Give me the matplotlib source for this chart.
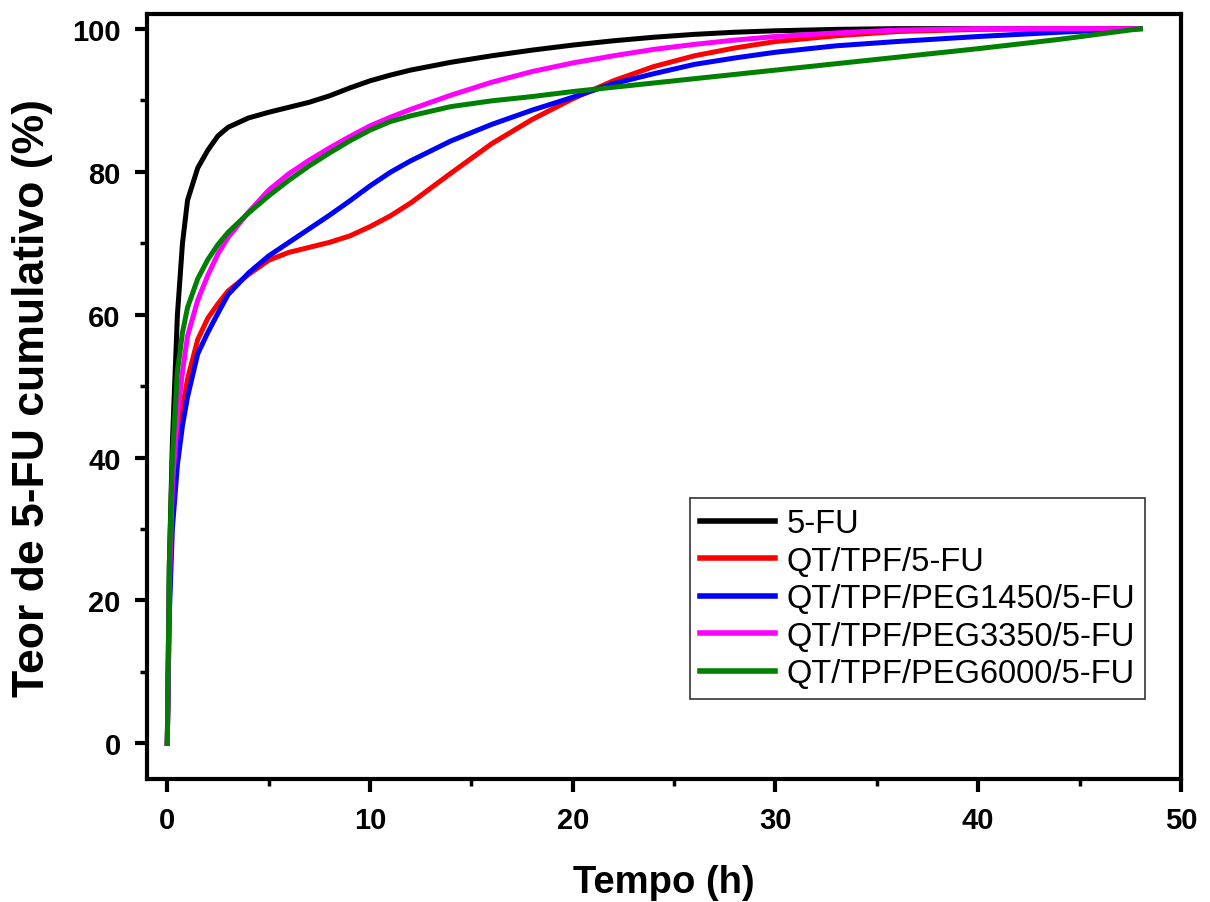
import numpy as np
import matplotlib
matplotlib.use("Agg")
import matplotlib.pyplot as plt
from matplotlib.ticker import MultipleLocator

plt.rcParams['font.family'] = ['Liberation Sans', 'DejaVu Sans']

# time points (h)
tempo = [0, 0.1, 0.25, 0.5, 0.75, 1, 1.5, 2, 2.5, 3, 4, 5, 6, 7, 8, 9, 10, 11, 12,
         14, 16, 18, 20, 22, 24, 26, 28, 30, 33, 36, 40, 44, 48]

# cumulative release (%)
fu = [0, 25, 42, 60, 70, 76, 80.5, 83, 85, 86.2, 87.5, 88.3, 89, 89.7, 90.6, 91.7, 92.7, 93.5, 94.2,
      95.3, 96.2, 97, 97.7, 98.3, 98.8, 99.2, 99.5, 99.7, 99.9, 100, 100, 100, 100]
qt_tpf = [0, 20, 33, 42, 47, 51, 56.5, 59.5, 61.5, 63.3, 65.6, 67.6, 68.7, 69.4, 70.1, 71, 72.3, 73.8, 75.6,
          79.8, 83.9, 87.3, 90.2, 92.7, 94.7, 96.2, 97.3, 98.2, 99, 99.6, 99.9, 100, 100]
peg1450 = [0, 18, 30, 39, 44.5, 48.5, 54.5, 57.5, 60.2, 62.8, 65.8, 68.2, 70.1, 72, 73.9, 75.9, 78, 79.9, 81.5,
           84.3, 86.6, 88.6, 90.4, 92.3, 93.7, 95, 95.9, 96.7, 97.6, 98.2, 98.9, 99.5, 100]
peg3350 = [0, 22, 36, 46, 52, 57, 62, 65.5, 68.5, 70.8, 74.3, 77.4, 79.7, 81.6, 83.3, 84.9, 86.4, 87.6, 88.7,
           90.7, 92.5, 94, 95.2, 96.2, 97.1, 97.8, 98.4, 98.9, 99.4, 99.8, 100, 100, 100]
peg6000 = [0, 25, 40, 52, 57.5, 61, 65, 67.7, 69.8, 71.5, 74.2, 76.6, 78.8, 80.8, 82.6, 84.3, 85.8, 87, 87.8,
           89.1, 89.9, 90.5, 91.2, 91.8, 92.4, 93, 93.6, 94.2, 95.1, 96, 97.2, 98.5, 100]

labels = ["5-FU", "QT/TPF/5-FU", "QT/TPF/PEG1450/5-FU", "QT/TPF/PEG3350/5-FU", "QT/TPF/PEG6000/5-FU"]
colors = ["black", "red", "blue", "magenta", "green"]
series = [fu, qt_tpf, peg1450, peg3350, peg6000]

fig = plt.figure(figsize=(12.1, 9.03), dpi=100)
ax = fig.add_axes([0.1215, 0.136, 0.8545, 0.847])

for y, c, lab in zip(series, colors, labels):
    ax.plot(tempo, y, color=c, lw=3.6, label=lab)

ax.set_xlim(-1, 50)
ax.set_ylim(-5, 102)
ax.xaxis.set_major_locator(MultipleLocator(10))
ax.xaxis.set_minor_locator(MultipleLocator(5))
ax.yaxis.set_major_locator(MultipleLocator(20))
ax.yaxis.set_minor_locator(MultipleLocator(10))

for s in ax.spines.values():
    s.set_linewidth(3)
ax.tick_params(which='major', direction='out', length=9, width=3, labelsize=21, pad=10)
ax.tick_params(which='minor', direction='out', length=5, width=2.5)
for lab in ax.get_xticklabels() + ax.get_yticklabels():
    lab.set_fontweight('bold')

ax.set_xlabel("Tempo (h)", fontsize=27.5, fontweight='bold', labelpad=22)
ax.set_ylabel("Teor de 5-FU cumulativo (%)", fontsize=32, fontweight='bold', labelpad=14)

leg = ax.legend(loc='lower right', bbox_to_anchor=(0.965, 0.105), fontsize=23.5,
                frameon=True, fancybox=False, edgecolor='black', handlelength=2.3,
                labelspacing=0.2, borderpad=0.3, handletextpad=0.35, borderaxespad=0)
leg.get_frame().set_linewidth(1.2)
for line in leg.get_lines():
    line.set_linewidth(4)

fig.savefig("out.png", dpi=100)
